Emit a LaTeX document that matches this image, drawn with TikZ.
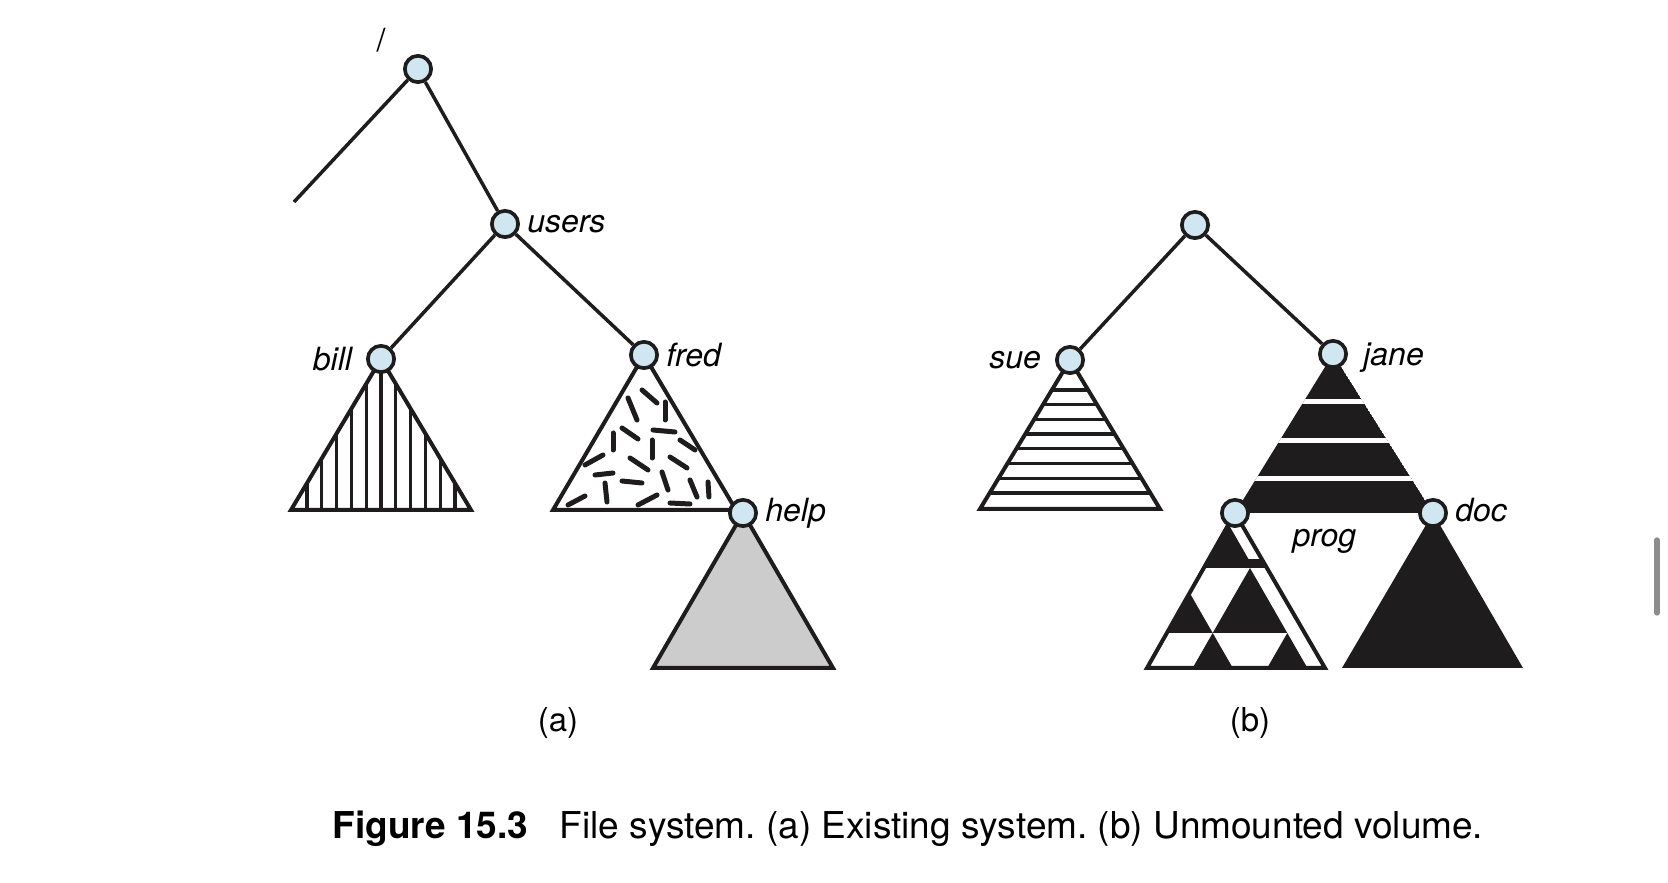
\documentclass[tikz,border=0pt]{standalone}
\usepackage{fontspec}
\setmainfont{TeX Gyre Heros}
\usetikzlibrary{calc}
\usetikzlibrary{positioning}
\usetikzlibrary{backgrounds}
\definecolor{dirblue}{RGB}{208,230,240}
\definecolor{ink}{RGB}{30,28,28}
\definecolor{helpgray}{RGB}{204,204,204}
\definecolor{scrollgray}{RGB}{140,140,140}
\newcommand{\labelsize}{\fontsize{9.6}{11}\selectfont}
\frenchspacing
\tikzset{dirnode/.style={ % one directory of the tree
           circle, draw=ink, fill=dirblue,
           line width=1.1pt, minimum size=7.9pt, inner sep=0pt},
         every label/.style={font=\labelsize\itshape, inner sep=1pt},
         every edge/.style={  % links between directories
           draw=ink, line width=1.05pt},
         subtree/.style={draw=ink, line width=1.2pt},
         stripe/.style={ink, line width=1pt},
         bit/.style={ink, line width=1.5pt, line cap=round}}

\begin{document}
\begin{tikzpicture}[x=0.3pt, y=-0.3pt]
  \useasboundingbox (0,0) rectangle (1668,883);

  % (a) existing system
  \node [dirnode] (root) at (418,69) {};
  \node (rootname) at (381,40) {\labelsize /};
  \coordinate (rootleft) at (294,202);
  \node [dirnode, label={[label distance=1pt]right:users}] (users) at (505,224) {};
  \node [dirnode, label={[label distance=3pt]left:bill}] (bill) at (381,359) {};
  \node [dirnode, label={[label distance=1pt]right:fred}] (fred) at (644,355) {};
  \node [dirnode, label={[label distance=1pt]right:help}] (help) at (743,513) {};

  % (b) unmounted volume
  \node [dirnode] (vroot) at (1195,225) {};
  \node [dirnode, label={[label distance=3pt]left:sue}] (sue) at (1070,360) {};
  \node [dirnode, label={[label distance=3.4pt, yshift=-1pt]right:jane}] (jane) at (1333,354) {};
  \node [dirnode] (prog) at (1235,513) {};
  \node [dirnode, label={[label distance=1pt, yshift=1pt]right:doc}] (doc) at (1433,513) {};
  \node [anchor=base west, inner sep=0pt, font=\labelsize\itshape] (progname) at (1292,547) {prog};

  \draw (root) edge (rootleft);
  \draw (root) edge (users);
  \draw (users) edge (bill);
  \draw (users) edge (fred);
  \draw (vroot) edge (sue);
  \draw (vroot) edge (jane);

  \begin{scope}[on background layer]
    % bill: vertical stripes
    \begin{scope}
      \clip (bill.center) -- ++(-90,151) -- ++(180,0) -- cycle;
      \foreach \k in {-6,...,6}
        \draw [stripe] ($(bill.center)+(\k*14.8,-20)$) -- ++(0,200);
    \end{scope}
    \draw [subtree] (bill.center) -- ++(-90,151) -- ++(180,0) -- cycle;

    % fred: scattered bits
    \draw [subtree] (fred.center) -- ++(-91,155) -- ++(183,0) -- cycle;
    \foreach \a/\b/\c/\d in {642/390/657/403, 628/398/637/420, 665/402/665/420,
        622/428/638/439, 653/430/675/432, 613/433/613/450, 652/440/652/458,
        680/440/695/450, 585/465/603/455, 630/458/648/470, 670/457/687/468,
        595/475/613/473, 622/481/642/483, 662/472/668/490, 690/480/697/497,
        708/482/709/497, 605/483/607/502, 568/505/585/496, 638/505/657/495,
        670/503/690/504}
      \draw [bit] (\a,\b) -- (\c,\d);

    % help: grey
    \draw [subtree, fill=helpgray] (help.center) -- ++(-90,155) -- ++(180,0) -- cycle;

    % sue: horizontal stripes
    \begin{scope}
      \clip (sue.center) -- ++(-90,149) -- ++(180,0) -- cycle;
      \foreach \k in {0,...,7}
        \draw [stripe] ($(sue.center)+(-100,30+\k*14.7)$) -- ++(200,0);
    \end{scope}
    \draw [subtree] (sue.center) -- ++(-90,149) -- ++(180,0) -- cycle;

    % jane: black with white bands
    \begin{scope}
      \clip (jane.center) -- (prog.center) -- (doc.center) -- cycle;
      \fill [ink] (jane.center) -- (prog.center) -- (doc.center) -- cycle;
      \foreach \dy in {48,87,125}
        \draw [white, line width=1.5pt] ($(jane.center)+(-120,\dy)$) -- ++(240,0);
    \end{scope}

    % prog: checkered
    \begin{scope}
      \clip (prog.center) -- ++(-88,155) -- ++(178,0) -- cycle;
      \fill [ink] ($(prog.center)+(-60,0)$) -- ++(0,55) -- ++(78.6,0) -- ++(-31.6,-55) -- cycle;
      \fill [ink] ($(prog.center)+(0,46)$) rectangle ++(100,9);
      \fill [ink] ($(prog.center)+(15,55)$) -- ++(-37.3,65) -- ++(74.6,0) -- cycle;
      \fill [ink] ($(prog.center)+(-45.1,80.3)$) -- ++(22.8,39.7) -- ++(-77.7,0) -- ++(0,-39.7) -- cycle;
      \fill [ink] ($(prog.center)+(-22.3,120)$) -- ++(-20.1,35) -- ++(40.2,0) -- cycle;
      \fill [ink] ($(prog.center)+(52.3,120)$) -- ++(-20.1,35) -- ++(40.2,0) -- cycle;
    \end{scope}
    \draw [subtree] (prog.center) -- ++(-88,155) -- ++(178,0) -- cycle;

    % doc: solid black
    \fill [ink] (doc.center) -- ++(-91,155) -- ++(181,0) -- cycle;
  \end{scope}

  \node [anchor=base] (parta) at (558,732) {\fontsize{9.9}{12}\selectfont (a)};
  \node [anchor=base] (partb) at (1250,732) {\fontsize{9.9}{12}\selectfont (b)};
  \node [anchor=base west, inner sep=0pt] (caption) at (332,839)
    {\fontsize{11.1}{13}\selectfont\textbf{Figure 15.3}\hspace{0.85em}File system. (a) Existing system. (b) Unmounted volume.};

  \draw [scrollgray, line width=1.6pt, line cap=round] (1657,540) -- (1657,613);
\end{tikzpicture}
\end{document}
